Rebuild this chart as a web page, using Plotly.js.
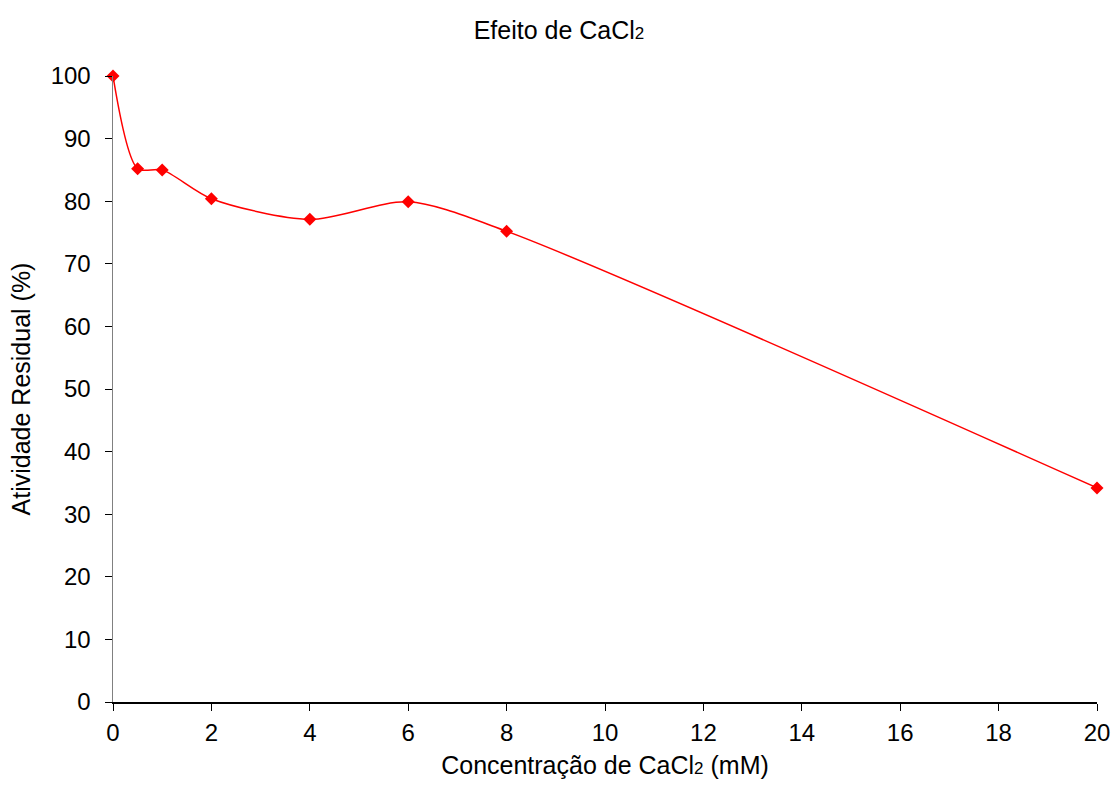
<!DOCTYPE html>
<html>
<head>
<meta charset="utf-8">
<script src="https://cdn.plot.ly/plotly-3.0.1.min.js"></script>
<style>html,body{margin:0;padding:0;background:#fff;}#chart{width:1118px;height:791px;}</style>
</head>
<body>
<div id="chart"></div>
<script>
const concentration = [0, 0.5, 1, 2, 4, 6, 8, 20];
const residualActivity = [100, 85.2, 85.0, 80.4, 77.1, 79.9, 75.2, 34.2];
const xTicks = [0, 2, 4, 6, 8, 10, 12, 14, 16, 18, 20];
const yTicks = [0, 10, 20, 30, 40, 50, 60, 70, 80, 90, 100];

const font = "'Liberation Sans', Arial, sans-serif";
const sub2 = '<span style="font-size:17px">2</span>';

Plotly.newPlot('chart', [{
  x: concentration,
  y: residualActivity,
  type: 'scatter',
  mode: 'lines+markers',
  line: {color: '#ff0000', width: 1.5, shape: 'spline', smoothing: 0.8},
  marker: {color: '#ff0000', symbol: 'diamond', size: 10},
  cliponaxis: false
}], {
  width: 1118, height: 791,
  margin: {l: 113, r: 21, t: 76, b: 89},
  paper_bgcolor: '#ffffff', plot_bgcolor: '#ffffff',
  font: {family: font, size: 24, color: '#000'},
  showlegend: false,
  title: {text: 'Efeito de CaCl' + sub2, font: {family: font, size: 25, color: '#000'}, x: 0.5, xanchor: 'center', y: 0.962, yanchor: 'middle'},
  xaxis: {
    range: [0, 20], tickvals: xTicks, ticktext: xTicks.map(String),
    showgrid: false, zeroline: false, showline: true, linecolor: '#000', linewidth: 1.5,
    ticks: 'outside', ticklen: 7, tickcolor: '#000', tickwidth: 1,
    tickfont: {family: font, size: 24}, ticklabelstandoff: 2,
    title: {text: 'Concentração de CaCl' + sub2 + ' (mM)', font: {family: font, size: 25}, standoff: 11}
  },
  yaxis: {
    range: [0, 100], tickvals: yTicks, ticktext: yTicks.map(String),
    showgrid: false, zeroline: false, showline: true, linecolor: '#808080', linewidth: 1.5,
    ticks: 'outside', ticklen: 7, tickcolor: '#000', tickwidth: 1,
    tickfont: {family: font, size: 24}, ticklabelstandoff: 9,
    title: {text: 'Atividade Residual (%)', font: {family: font, size: 25}, standoff: 13}
  }
}, {displayModeBar: false, staticPlot: true});
</script>
</body>
</html>
